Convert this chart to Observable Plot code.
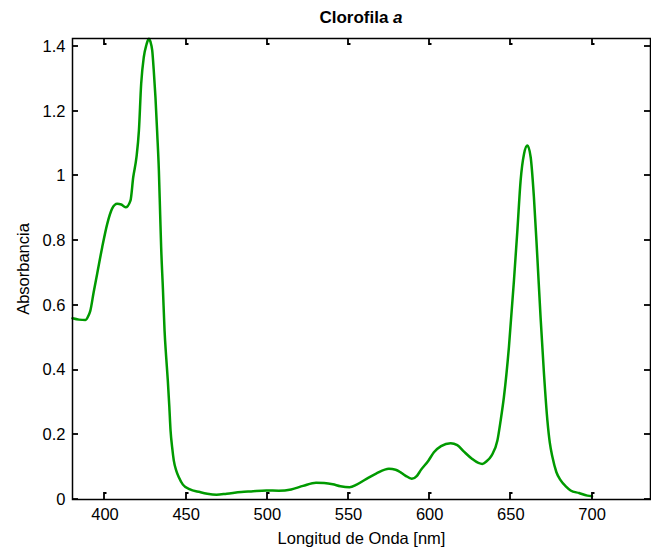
<!DOCTYPE html>
<html>
<head>
<meta charset="utf-8">
<script src="https://cdn.jsdelivr.net/npm/d3@7"></script>
<script src="https://cdn.jsdelivr.net/npm/@observablehq/plot@0.6"></script>
<style>
  html, body { margin: 0; padding: 0; background: #fff; }
  #chart { width: 651px; height: 553px; }
</style>
</head>
<body>
<div id="chart"></div>
<script>
// Wavelength (nm) and absorbance
const wavelength = [380,384,388,390,391,393,395.2,398.3,401.4,404.4,407.5,410,412.7,415.7,417.4,419.4,420.9,422.3,423.9,425.5,427,428,429.1,430,431.1,432.2,433.2,434,434.6,435.7,436.7,437.7,438.7,439.6,440.4,441.4,442.4,444,445.5,448,452,458.5,463,468.7,475,484,490,499.4,507,514.7,522,530,535,540.3,545,550.6,555,560.8,567,574.9,579,582.1,585,589,592,594.4,599.2,602.6,607,612.9,617,621.1,626,630,632.4,635,638,641.7,643.7,645.7,648.8,651.9,654,656,658.1,660.2,662.2,664.2,666.3,668.3,670.4,672.5,674,675.6,678,680.7,684,686.8,692,697.1,700];
const absorbance = [0.560,0.556,0.555,0.570,0.584,0.640,0.698,0.780,0.852,0.899,0.914,0.912,0.903,0.924,0.996,1.058,1.140,1.285,1.367,1.405,1.424,1.415,1.388,1.330,1.243,1.130,1.017,0.880,0.780,0.650,0.522,0.440,0.368,0.290,0.213,0.160,0.120,0.088,0.069,0.046,0.032,0.023,0.018,0.015,0.018,0.023,0.025,0.028,0.027,0.031,0.042,0.052,0.051,0.047,0.041,0.038,0.046,0.063,0.080,0.095,0.092,0.084,0.074,0.064,0.072,0.090,0.120,0.146,0.165,0.174,0.168,0.148,0.126,0.113,0.110,0.118,0.135,0.182,0.244,0.316,0.471,0.677,0.831,0.986,1.068,1.094,1.058,0.934,0.749,0.563,0.388,0.244,0.175,0.131,0.085,0.059,0.040,0.028,0.020,0.012,0.010];
const xTicks = [400,450,500,550,600,650,700];
const yTicks = [0,0.2,0.4,0.6,0.8,1,1.2,1.4];
const xDomain = [380,736];
const yDomain = [0,1.425];
const titleMain = "Clorofila ";
const titleItalic = "a";
const xLabel = "Longitud de Onda [nm]";
const yLabel = "Absorbancia";

const data = wavelength.map((w,i) => ({w, a: absorbance[i]}));

const W = 651, H = 553, ML = 72, MR = 1, MT = 38, MB = 54;
const font = "'Liberation Sans', Arial, sans-serif";

const chart = Plot.plot({
  width: W,
  height: H,
  marginLeft: ML,
  marginRight: MR,
  marginTop: MT,
  marginBottom: MB,
  style: {fontFamily: font, fontSize: "16.5px", color: "#000", background: "#fff"},
  x: {domain: xDomain},
  y: {domain: yDomain},
  marks: [
    Plot.line(data, {x: "w", y: "a", stroke: "#009a00", strokeWidth: 2.5, curve: "monotone-x"}),
    Plot.frame({stroke: "#000", strokeWidth: 1.5}),
    Plot.axisX({anchor: "bottom", ticks: xTicks, tickSize: 0, tickPadding: 9,
      label: xLabel, labelAnchor: "center", labelArrow: "none", labelOffset: 44, fontSize: 16.5}),
    Plot.axisY({anchor: "left", ticks: yTicks, tickSize: 0, tickPadding: 7, tickFormat: d => String(d),
      label: yLabel, labelAnchor: "center", labelArrow: "none", labelOffset: 55, fontSize: 16.5})
  ]
});

// inward MATLAB-style tick marks on all four sides, positioned with Plot's own scales
const svg = d3.select(chart);
const sx = chart.scale("x"), sy = chart.scale("y");
const xr = sx.range;
const yB = Math.max(...sy.range), yT = Math.min(...sy.range);
const xL = Math.min(...xr), xR = Math.max(...xr);
const TL = 6;
const g = svg.append("g").attr("stroke", "#000").attr("stroke-width", 1.8).attr("fill", "none");
for (const v of xTicks) {
  const px = Math.round(sx.apply(v));
  g.append("path").attr("d", `M${px},${yB}V${yB - TL}h2.5`);
  g.append("path").attr("d", `M${px},${yT}V${yT + TL}h2.5`);
}
for (const v of yTicks) {
  const py = Math.round(sy.apply(v));
  g.append("path").attr("d", `M${xL},${py}H${xL + TL}`);
  g.append("path").attr("d", `M${xR},${py}H${xR - TL}`);
}

const t = svg.append("text")
  .attr("x", (xL + xR) / 2)
  .attr("y", 23)
  .attr("text-anchor", "middle")
  .attr("font-family", font)
  .attr("font-size", 17)
  .attr("font-weight", "bold")
  .attr("fill", "#000");
t.append("tspan").text(titleMain);
t.append("tspan").attr("font-style", "italic").text(titleItalic);

document.getElementById("chart").appendChild(chart);
</script>
</body>
</html>
